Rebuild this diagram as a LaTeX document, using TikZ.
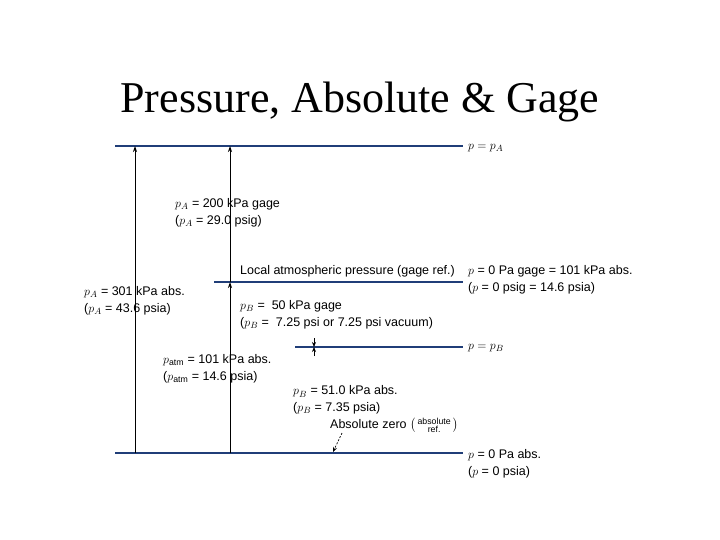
\documentclass[tikz,border=0pt]{standalone}
\usepackage{amsmath}
\usepackage{fontspec}
\setmainfont{Liberation Sans}
\newfontfamily\titlefont{Liberation Serif}
\usetikzlibrary{arrows.meta}
\definecolor{lineblue}{RGB}{32,62,120}
\tikzset{
  level/.style={draw=lineblue, line width=2.2pt},
  thinlevel/.style={draw=lineblue, line width=1.1pt},
  dim/.style={draw=black, line width=0.8pt, -{Stealth[length=6pt,width=4pt]}},
  lbl/.style={anchor=west, inner sep=0pt, align=left, font=\fontsize{12.5}{16.5}\selectfont}
}
\begin{document}
\begin{tikzpicture}[x=1pt,y=-1pt]
\useasboundingbox (0,0) rectangle (720,540);
\node[font=\titlefont\fontsize{44}{48}\selectfont, anchor=base] (title) at (360,113) {Pressure, Absolute \& Gage};
% levels
\coordinate (topL) at (115,146); \coordinate (topR) at (463,146);
\coordinate (atmL) at (214,282); \coordinate (atmR) at (463,282);
\coordinate (pbL) at (295,347); \coordinate (pbR) at (463,347);
\coordinate (botL) at (115,453); \coordinate (botR) at (463,453);
\draw[level] (topL) -- (topR);
\draw[thinlevel] (atmL) -- (atmR);
\draw[level] (pbL) -- (pbR);
\draw[level] (botL) -- (botR);
% arrows
\coordinate (a1b) at (135,453); \coordinate (a1t) at (135,146);
\coordinate (a2b) at (230,453); \coordinate (a2m) at (230,282); \coordinate (a2t) at (230,146);
\coordinate (pbu) at (314,338); \coordinate (pbm) at (314,347); \coordinate (pbd) at (314,356);
\coordinate (zs) at (342,433); \coordinate (ze) at (333,452);
\draw[dim] (a1b) -- (a1t);
\draw[dim] (a2m) -- (a2t);
\draw[dim] (a2b) -- (a2m);
\draw[black, line width=0.8pt, -{Stealth[length=5pt,width=4pt]}] (pbu) -- (pbm);
\draw[black, line width=0.8pt, -{Stealth[length=5pt,width=4pt]}] (pbd) -- (pbm);
\draw[black, line width=0.7pt, dashed, dash pattern=on 2pt off 1.5pt, -{Stealth[length=5pt,width=4pt]}] (zs) -- (ze);
% labels
\node[lbl] (lA) at (175,213) {$p_A$ = 200 kPa gage\\($p_A$ = 29.0 psig)};
\node[lbl] (latm) at (240,271) {Local atmospheric pressure (gage ref.)};
\node[lbl] (lAabs) at (84,301) {$p_A$ = 301 kPa abs.\\($p_A$ = 43.6 psia)};
\node[lbl] (lB) at (240,315) {$p_B$ = \ 50 kPa gage\\($p_B$ = \ 7.25 psi or 7.25 psi vacuum)};
\node[lbl] (latmabs) at (163,369) {$p_{\text{atm}}$ = 101 kPa abs.\\($p_{\text{atm}}$ = 14.6 psia)};
\node[lbl] (lBabs) at (293,400) {$p_B$ = 51.0 kPa abs.\\($p_B$ = 7.35 psia)};
\node[lbl] (lzero) at (330,425) {Absolute zero $\left(\begin{smallmatrix}\text{absolute}\\ \text{ref.}\end{smallmatrix}\right)$};
\node[lbl] (rA) at (468,148) {$p = p_A$};
\node[lbl] (ratm) at (468,280) {$p$ = 0 Pa gage = 101 kPa abs.\\($p$ = 0 psig = 14.6 psia)};
\node[lbl] (rB) at (468,348) {$p = p_B$};
\node[lbl] (rzero) at (468,464) {$p$ = 0 Pa abs.\\($p$ = 0 psia)};
\end{tikzpicture}
\end{document}
